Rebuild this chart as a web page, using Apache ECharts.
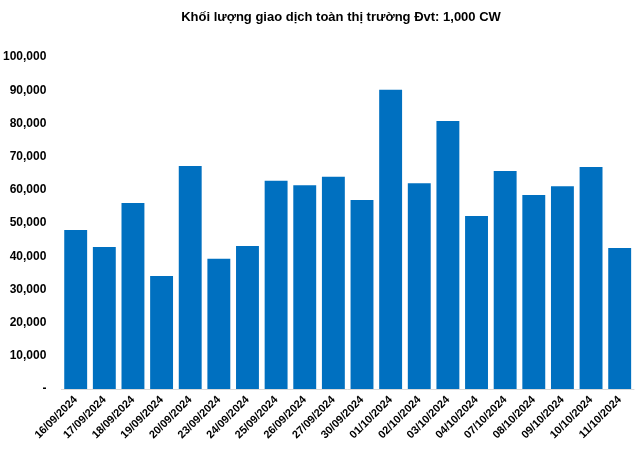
<!DOCTYPE html>
<html><head><meta charset="utf-8">
<script src="https://cdn.jsdelivr.net/npm/echarts@6/dist/echarts.min.js"></script>
<style>html,body{margin:0;padding:0;background:#fff}#c{width:640px;height:452px}</style>
</head><body><div id="c"></div>
<script>
const titleText = "Khối lượng giao dịch toàn thị trường Đvt: 1,000 CW";
const categories = ["16/09/2024","17/09/2024","18/09/2024","19/09/2024","20/09/2024","23/09/2024","24/09/2024","25/09/2024","26/09/2024","27/09/2024","30/09/2024","01/10/2024","02/10/2024","03/10/2024","04/10/2024","07/10/2024","08/10/2024","09/10/2024","10/10/2024","11/10/2024"];
const values = [47900,42800,56000,34000,67200,39200,43100,62700,61400,63900,56900,90100,62000,80700,52100,65700,58400,61100,66900,42500];
const yMin = 0, yMax = 100000, yStep = 10000;

const chart = echarts.init(document.getElementById('c'), null, {renderer:'canvas'});
chart.setOption({
  animation:false,
  backgroundColor:'#ffffff',
  title:{text:titleText,left:336,top:6,textAlign:'center',
    textStyle:{fontFamily:'Liberation Sans, Arial, sans-serif',fontWeight:'bold',fontSize:13,color:'#000'}},
  grid:{left:60,right:6,top:57,bottom:63,containLabel:false},
  xAxis:{type:'category',data:categories,
    axisLine:{lineStyle:{color:'#d9d9d9',width:1}},
    axisTick:{show:false},
    axisLabel:{rotate:45,interval:0,margin:9,fontFamily:'Liberation Sans, Arial, sans-serif',fontWeight:'bold',fontSize:11,color:'#000'}},
  yAxis:{type:'value',min:yMin,max:yMax,interval:yStep,
    splitLine:{show:false},axisLine:{show:false},axisTick:{show:false},
    axisLabel:{margin:15,fontFamily:'Liberation Sans, Arial, sans-serif',fontWeight:'bold',fontSize:12,color:'#000',
      formatter:v=> v===0 ? '-' : v.toLocaleString('en-US')}},
  series:[{type:'bar',data:values,barWidth:'80%',itemStyle:{color:'#0070C0'}}]
});
</script></body></html>
